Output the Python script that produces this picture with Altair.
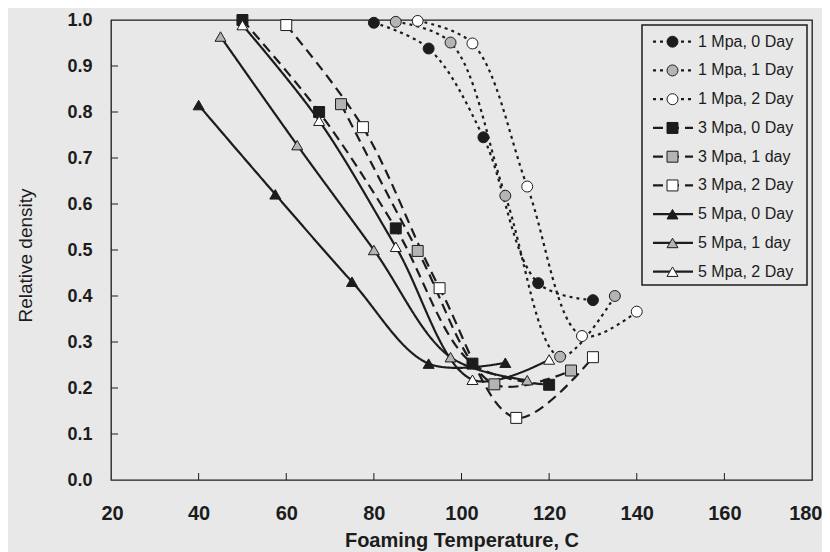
import altair as alt
import pandas as pd

# ---------------- data ----------------
series = ["1 Mpa, 0 Day", "1 Mpa, 1 Day", "1 Mpa, 2 Day",
          "3 Mpa, 0 Day", "3 Mpa, 1 day", "3 Mpa, 2 Day",
          "5 Mpa, 0 Day", "5 Mpa, 1 day", "5 Mpa, 2 Day"]

x_1mpa_0 = [80, 92.5, 105, 117.5, 130]
y_1mpa_0 = [0.994, 0.938, 0.745, 0.428, 0.391]
x_1mpa_1 = [85, 97.5, 110, 122.5, 135]
y_1mpa_1 = [0.996, 0.951, 0.618, 0.268, 0.400]
x_1mpa_2 = [90, 102.5, 115, 127.5, 140]
y_1mpa_2 = [0.998, 0.949, 0.638, 0.313, 0.366]

x_3mpa_0 = [50, 67.5, 85, 102.5, 120]
y_3mpa_0 = [1.0, 0.800, 0.547, 0.253, 0.207]
x_3mpa_1 = [72.5, 90, 107.5, 125]
y_3mpa_1 = [0.817, 0.498, 0.208, 0.238]
x_3mpa_2 = [60, 77.5, 95, 112.5, 130]
y_3mpa_2 = [0.989, 0.767, 0.417, 0.135, 0.267]

x_5mpa_0 = [40, 57.5, 75, 92.5, 110]
y_5mpa_0 = [0.815, 0.621, 0.431, 0.253, 0.255]
x_5mpa_1 = [45, 62.5, 80, 97.5, 115]
y_5mpa_1 = [0.964, 0.728, 0.500, 0.267, 0.217]
x_5mpa_2 = [50, 67.5, 85, 102.5, 120]
y_5mpa_2 = [0.989, 0.781, 0.507, 0.218, 0.262]

x_ticks = [20, 40, 60, 80, 100, 120, 140, 160, 180]
y_ticks = [0.0, 0.1, 0.2, 0.3, 0.4, 0.5, 0.6, 0.7, 0.8, 0.9, 1.0]

# ---------------- styles ----------------
INK = "#1c1c1c"
BG = "#e8e8e8"
FONT = "Liberation Sans"

shapes = ["circle"] * 3 + ["square"] * 3 + ["triangle-up"] * 3
fills = [INK, "#b4b4b4", "#ffffff"] * 3
sizes = [120] * 3 + [150] * 3 + [170] * 3
dashes = [[3, 4]] * 3 + [[10, 6]] * 3 + [[1, 0]] * 3
widths = [2.2] * 3 + [2.0] * 3 + [1.0] * 3

xs = [x_1mpa_0, x_1mpa_1, x_1mpa_2, x_3mpa_0, x_3mpa_1, x_3mpa_2, x_5mpa_0, x_5mpa_1, x_5mpa_2]
ys = [y_1mpa_0, y_1mpa_1, y_1mpa_2, y_3mpa_0, y_3mpa_1, y_3mpa_2, y_5mpa_0, y_5mpa_1, y_5mpa_2]

rows = []
for name, xv, yv in zip(series, xs, ys):
    for a, b in zip(xv, yv):
        rows.append({"series": name, "temp": a, "density": b})
df = pd.DataFrame(rows)

W, H = 701, 460

xscale = alt.Scale(domain=[20, 180], nice=False, zero=False)
yscale = alt.Scale(domain=[0, 1], nice=False, zero=False)

xaxis = alt.Axis(values=x_ticks, format="d", domain=False, ticks=False, grid=False,
                 labelFontSize=20, labelFontWeight="bold", labelFont=FONT, labelColor=INK,
                 labelPadding=23, labelFlush=True, labelFlushOffset=10, labelOverlap=False,
                 title="Foaming Temperature, C", titleFontSize=20, titleFontWeight="bold",
                 titleFont=FONT, titleColor=INK, titleBaseline="top", titleY=50.5)
yaxis = alt.Axis(values=y_ticks, format=".1f", domain=False, ticks=False, grid=False,
                 labelFontSize=18, labelFontWeight="bold", labelFont=FONT, labelColor=INK,
                 labelPadding=19, labelFlush=False, labelOverlap=False,
                 title="Relative density", titleFontSize=19, titleFontWeight="normal",
                 titleFont=FONT, titleColor=INK, titleBaseline="alphabetic",
                 titleX=-80, titleY=235, titleAlign="center")

dash_enc = alt.StrokeDash("series:N", scale=alt.Scale(domain=series, range=dashes), legend=None)
width_enc = alt.StrokeWidth("series:N", scale=alt.Scale(domain=series, range=widths), legend=None)
shape_enc = alt.Shape("series:N", scale=alt.Scale(domain=series, range=shapes), legend=None)
fill_enc = alt.Fill("series:N", scale=alt.Scale(domain=series, range=fills), legend=None)
size_enc = alt.Size("series:N", scale=alt.Scale(domain=series, range=sizes), legend=None)

lines = alt.Chart(df).mark_line(interpolate="catmull-rom", color=INK).encode(
    x=alt.X("temp:Q", scale=xscale, axis=xaxis),
    y=alt.Y("density:Q", scale=yscale, axis=yaxis),
    detail="series:N",
    strokeDash=dash_enc,
    strokeWidth=width_enc,
    order="temp:Q",
)

points = alt.Chart(df).mark_point(stroke=INK, strokeWidth=1, opacity=1, fillOpacity=1).encode(
    x=alt.X("temp:Q", scale=xscale),
    y=alt.Y("density:Q", scale=yscale),
    shape=shape_enc,
    fill=fill_enc,
    size=size_enc,
)

xt = alt.Chart(pd.DataFrame({"t": x_ticks[1:-1]})).mark_rule(color=INK, strokeWidth=1).encode(
    x=alt.X("t:Q", scale=xscale), y=alt.value(H), y2=alt.value(H - 7))
yt = alt.Chart(pd.DataFrame({"t": y_ticks[1:-1]})).mark_rule(color=INK, strokeWidth=1).encode(
    y=alt.Y("t:Q", scale=yscale), x=alt.value(0), x2=alt.value(7))

main = alt.layer(lines, points, xt, yt)

# ---------------- legend (inside plot, top-right) ----------------
leg = pd.DataFrame({"series": series})
ly = alt.Y("series:N", scale=alt.Scale(type="point", domain=series, range=[21.7, 251.7], padding=0), axis=None)

leg_box = alt.Chart(pd.DataFrame({"k": [0]})).mark_rect(fill=BG, stroke=INK, strokeWidth=1.5).encode(
    x=alt.value(531), x2=alt.value(696), y=alt.value(5), y2=alt.value(265))
leg_line = alt.Chart(leg).mark_rule(color=INK).encode(
    y=ly, x=alt.value(542), x2=alt.value(582), strokeDash=dash_enc, strokeWidth=width_enc)
leg_pt = alt.Chart(leg).mark_point(stroke=INK, strokeWidth=1, opacity=1, fillOpacity=1).encode(
    y=ly, x=alt.value(561.5), shape=shape_enc, fill=fill_enc, size=size_enc)
leg_txt = alt.Chart(leg).mark_text(align="left", baseline="middle", font=FONT, fontSize=16,
                                   color=INK).encode(
    y=ly, x=alt.value(587), text="series:N")

legend = alt.layer(leg_box, leg_line, leg_pt, leg_txt)

chart = alt.layer(main, legend).resolve_scale(y="independent").properties(
    width=W, height=H,
    padding={"left": 103, "top": 12, "right": 10, "bottom": 72},
    autosize=alt.AutoSizeParams(type="none"),
    background=BG,
).configure_view(stroke=INK, strokeWidth=1.3)

chart.save("out.html", embed_options={"renderer": "svg", "actions": False})
